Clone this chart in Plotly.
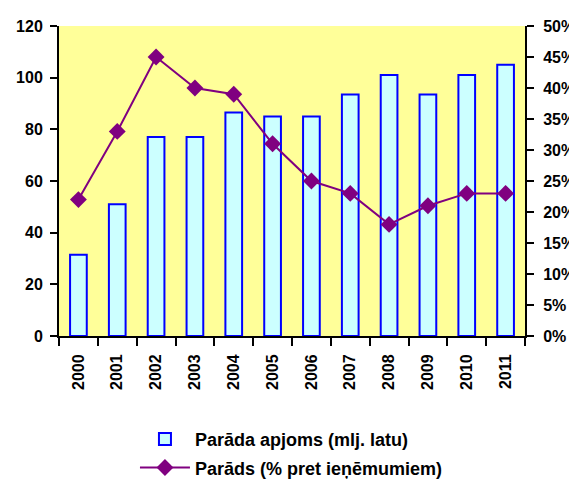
import plotly.graph_objects as go

years = ["2000", "2001", "2002", "2003", "2004", "2005", "2006", "2007", "2008", "2009", "2010", "2011"]
debt_mln = [31.5, 51, 77, 77, 86.5, 85, 85, 93.5, 101, 93.5, 101, 105]
debt_pct = [22, 33, 45, 40, 39, 31, 25, 23, 18, 21, 23, 23]

FAM = "Liberation Sans, Arial, sans-serif"
tick_font = dict(size=16, family=FAM, color="black", weight="bold")

fig = go.Figure()
fig.add_trace(go.Bar(
    x=years, y=debt_mln, name="<b>Parāda apjoms (mlj. latu)</b>",
    marker=dict(color="#CCFFFF", line=dict(color="#0000FF", width=2)),
    width=0.43, yaxis="y", legendgroup="a",
))
fig.add_trace(go.Scatter(
    x=years, y=debt_pct, name="<b>Parāds (% pret ieņēmumiem)</b>",
    mode="lines+markers",
    line=dict(color="#800080", width=2),
    marker=dict(symbol="diamond", size=13, color="#800080"),
    yaxis="y2", legendgroup="b",
))

# page body has an 8px margin, so offsets are compensated here
fig.update_layout(
    width=577, height=479,
    margin=dict(l=51, r=60, t=18, b=151),
    paper_bgcolor="white",
    plot_bgcolor="#FFFF99",
    font=dict(family=FAM, size=15, color="black"),
    showlegend=True,
    legend=dict(
        x=0.163, xref="paper", y=0.138, yref="container", xanchor="left", yanchor="top",
        orientation="v", font=dict(size=18, family=FAM, color="black", weight="bold"),
        bgcolor="rgba(0,0,0,0)", tracegroupgap=2, itemwidth=50, traceorder="grouped",
    ),
    xaxis=dict(
        type="category", showgrid=False, showline=True, linecolor="black", linewidth=2,
        ticks="outside", tickson="boundaries", ticklen=8, tickwidth=2, tickcolor="black",
        tickangle=-90, tickfont=tick_font, automargin=False,
        tickvals=years, ticktext=["<b>%s</b>" % y for y in years],
        ticklabelstandoff=10,
        range=[-0.5, 11.5],
    ),
    yaxis=dict(
        range=[0, 120], dtick=20, showgrid=False, showline=True, linecolor="black", linewidth=2,
        ticks="outside", ticklen=7, tickwidth=2, tickcolor="black", zeroline=False,
        tickfont=tick_font, tickprefix="<b>", ticksuffix="</b>", automargin=False,
        ticklabelstandoff=4,
    ),
    yaxis2=dict(
        range=[0, 50], dtick=5, overlaying="y", side="right", showgrid=False,
        showline=True, linecolor="black", linewidth=2, tickprefix="<b>", ticksuffix="%</b>",
        ticks="outside", ticklen=7, tickwidth=2, tickcolor="black", zeroline=False,
        tickfont=tick_font, automargin=False, ticklabelstandoff=6,
    ),
)

fig.write_html("out.html")
